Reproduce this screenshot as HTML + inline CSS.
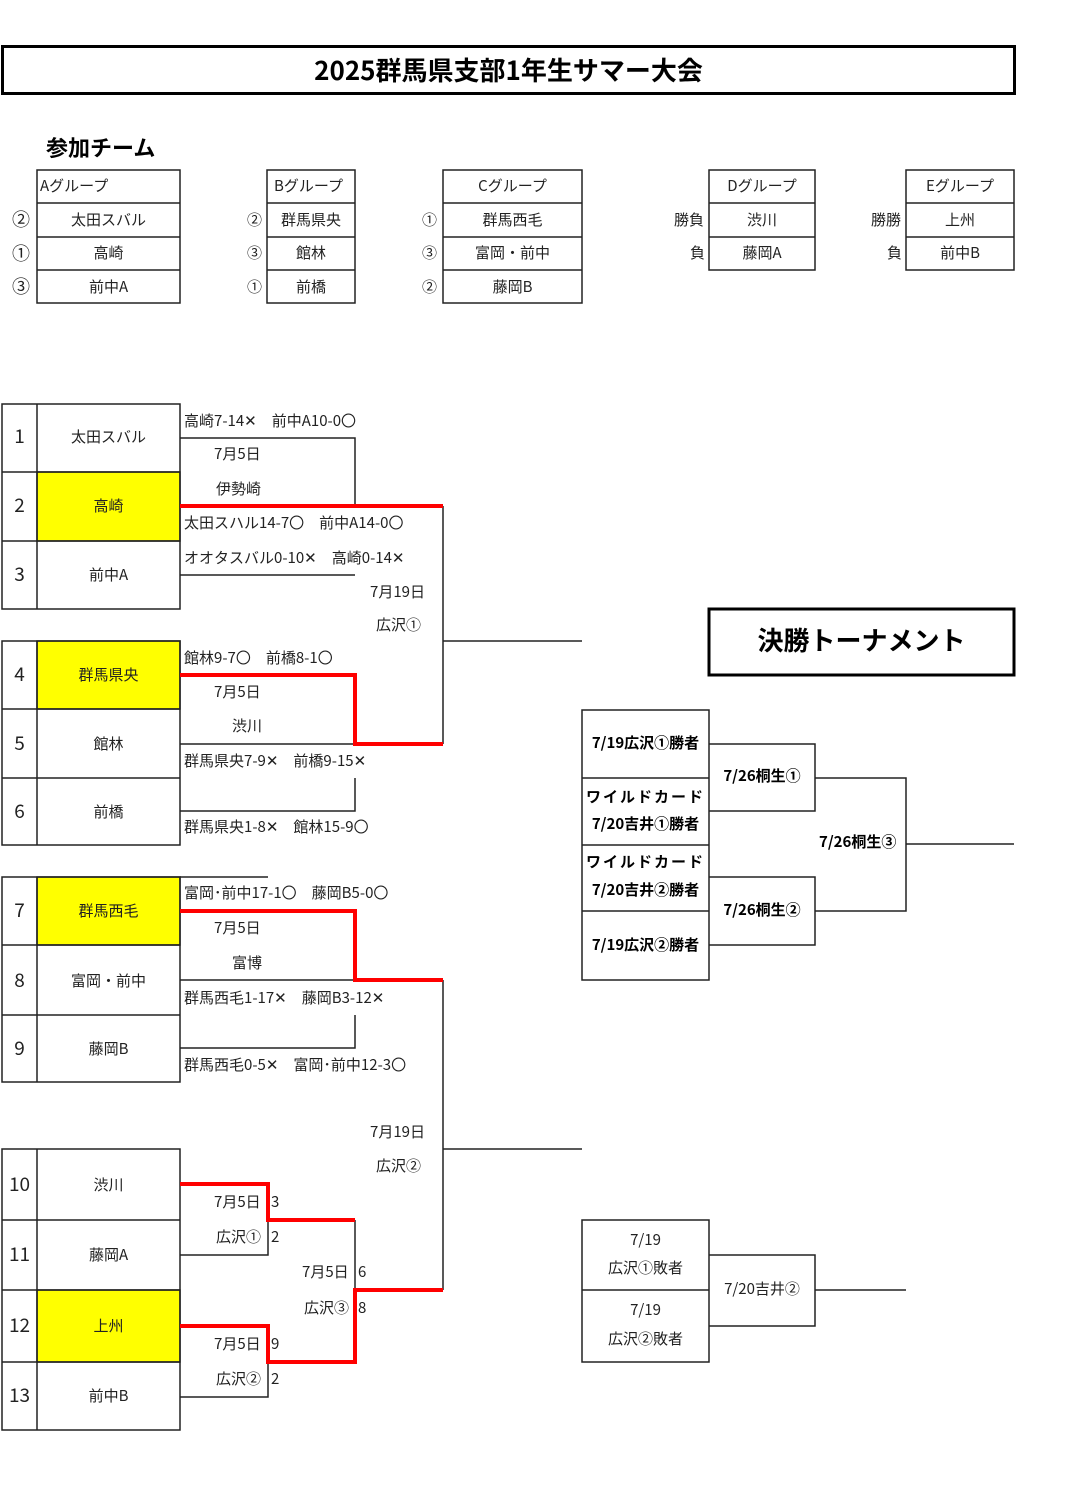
<!DOCTYPE html>
<html><head><meta charset="utf-8"><style>
body{margin:0;background:#fff;}
#p{position:relative;width:1080px;height:1509px;overflow:hidden;font-family:"Noto Sans CJK JP","Liberation Sans",sans-serif;color:#222;font-size:15px;}
.t{position:absolute;white-space:nowrap;line-height:20px;}
.c{text-align:center;}
.b{font-weight:bold;color:#000;}
svg{position:absolute;left:0;top:0;}
</style></head><body><div id="p">
<svg width="1080" height="1509" xmlns="http://www.w3.org/2000/svg">
<g fill="none" stroke="#222" stroke-width="1.5">
<rect x="2.5" y="46.5" width="1012" height="47" stroke-width="3" stroke="#000"/>
<rect x="37" y="170" width="143" height="133"/><line x1="37" y1="203" x2="180" y2="203"/><line x1="37" y1="237" x2="180" y2="237"/><line x1="37" y1="270" x2="180" y2="270"/>
<rect x="267" y="170" width="88" height="133"/><line x1="267" y1="203" x2="355" y2="203"/><line x1="267" y1="237" x2="355" y2="237"/><line x1="267" y1="270" x2="355" y2="270"/>
<rect x="443" y="170" width="139" height="133"/><line x1="443" y1="203" x2="582" y2="203"/><line x1="443" y1="237" x2="582" y2="237"/><line x1="443" y1="270" x2="582" y2="270"/>
<rect x="709" y="170" width="106" height="100"/><line x1="709" y1="203" x2="815" y2="203"/><line x1="709" y1="237" x2="815" y2="237"/>
<rect x="906" y="170" width="108" height="100"/><line x1="906" y1="203" x2="1014" y2="203"/><line x1="906" y1="237" x2="1014" y2="237"/>
</g>
<g stroke="#222" stroke-width="1.5">
<rect x="37" y="472" width="143" height="69" fill="#ffff00"/>
<rect x="37" y="641" width="143" height="68" fill="#ffff00"/>
<rect x="37" y="877" width="143" height="68" fill="#ffff00"/>
<rect x="37" y="1290" width="143" height="72" fill="#ffff00"/>
</g>
<g fill="none" stroke="#222" stroke-width="1.5">
<rect x="2" y="404" width="178" height="205"/><line x1="37" y1="404" x2="37" y2="609"/><line x1="2" y1="472" x2="180" y2="472"/><line x1="2" y1="541" x2="180" y2="541"/>
<rect x="2" y="641" width="178" height="204"/><line x1="37" y1="641" x2="37" y2="845"/><line x1="2" y1="709" x2="180" y2="709"/><line x1="2" y1="778" x2="180" y2="778"/>
<rect x="2" y="877" width="178" height="205"/><line x1="37" y1="877" x2="37" y2="1082"/><line x1="2" y1="945" x2="180" y2="945"/><line x1="2" y1="1015" x2="180" y2="1015"/>
<rect x="2" y="1149" width="178" height="281"/><line x1="37" y1="1149" x2="37" y2="1430"/><line x1="2" y1="1220" x2="180" y2="1220"/><line x1="2" y1="1290" x2="180" y2="1290"/><line x1="2" y1="1362" x2="180" y2="1362"/>
<polyline points="180,438 355,438 355,506"/>
<line x1="180" y1="575" x2="355" y2="575"/>
<line x1="443" y1="506" x2="443" y2="744"/>
<line x1="443" y1="641" x2="582" y2="641"/>
<line x1="180" y1="744" x2="355" y2="744"/>
<polyline points="180,811 355,811 355,778"/>
<line x1="180" y1="877" x2="268" y2="877"/>
<line x1="180" y1="980" x2="355" y2="980"/>
<polyline points="180,1048 355,1048 355,1015"/>
<line x1="443" y1="980" x2="443" y2="1290"/>
<line x1="443" y1="1149" x2="582" y2="1149"/>
<polyline points="180,1255 268,1255 268,1220"/>
<line x1="355" y1="1220" x2="355" y2="1290"/>
<polyline points="180,1397 268,1397 268,1362"/>
<rect x="709" y="609" width="305" height="66" stroke-width="3" stroke="#000"/>
<rect x="582" y="710" width="127" height="270"/><line x1="582" y1="778" x2="709" y2="778"/><line x1="582" y1="845" x2="709" y2="845"/><line x1="582" y1="911" x2="709" y2="911"/>
<polyline points="709,744 815,744 815,811 709,811"/>
<polyline points="709,877 815,877 815,945 709,945"/>
<polyline points="815,778 906,778 906,911 815,911"/>
<line x1="906" y1="844" x2="1014" y2="844"/>
<rect x="582" y="1220" width="127" height="142"/><line x1="582" y1="1290" x2="709" y2="1290"/>
<polyline points="709,1255 815,1255 815,1326 709,1326"/>
<line x1="815" y1="1290" x2="906" y2="1290"/>
</g>
<g fill="none" stroke="#f00" stroke-width="4">
<polyline points="180,506 443,506"/>
<polyline points="180,675 355,675 355,744 443,744"/>
<polyline points="180,911 355,911 355,980 443,980"/>
<polyline points="180,1184 268,1184 268,1220 355,1220"/>
<polyline points="180,1326 268,1326 268,1362 355,1362 355,1290 443,1290"/>
</g>
</svg>

<div class="t c b" style="left:2px;top:55px;width:1013px;font-size:26px;line-height:30px;">2025群馬県支部1年生サマー大会</div>
<div class="t b" style="left:46px;top:133px;font-size:22px;line-height:28px;">参加チーム</div>

<div class="t" style="left:40px;top:176px;">Aグループ</div>
<div class="t c" style="left:37px;top:210px;width:143px;">太田スバル</div>
<div class="t c" style="left:37px;top:243px;width:143px;">高崎</div>
<div class="t c" style="left:37px;top:277px;width:143px;">前中A</div>
<div class="t" style="left:12px;top:209px;font-size:18px;">②</div>
<div class="t" style="left:12px;top:243px;font-size:18px;">①</div>
<div class="t" style="left:12px;top:276px;font-size:18px;">③</div>

<div class="t" style="left:274px;top:176px;">Bグループ</div>
<div class="t c" style="left:267px;top:210px;width:88px;">群馬県央</div>
<div class="t c" style="left:267px;top:243px;width:88px;">館林</div>
<div class="t c" style="left:267px;top:277px;width:88px;">前橋</div>
<div class="t" style="left:247px;top:210px;">②</div>
<div class="t" style="left:247px;top:243px;">③</div>
<div class="t" style="left:247px;top:277px;">①</div>

<div class="t c" style="left:443px;top:176px;width:139px;">Cグループ</div>
<div class="t c" style="left:443px;top:210px;width:139px;">群馬西毛</div>
<div class="t c" style="left:443px;top:243px;width:139px;">富岡・前中</div>
<div class="t c" style="left:443px;top:277px;width:139px;">藤岡B</div>
<div class="t" style="left:422px;top:210px;">①</div>
<div class="t" style="left:422px;top:243px;">③</div>
<div class="t" style="left:422px;top:277px;">②</div>

<div class="t c" style="left:709px;top:176px;width:106px;">Dグループ</div>
<div class="t c" style="left:709px;top:210px;width:106px;">渋川</div>
<div class="t c" style="left:709px;top:243px;width:106px;">藤岡A</div>
<div class="t" style="left:674px;top:210px;">勝負</div>
<div class="t" style="left:690px;top:243px;">負</div>

<div class="t c" style="left:906px;top:176px;width:108px;">Eグループ</div>
<div class="t c" style="left:906px;top:210px;width:108px;">上州</div>
<div class="t c" style="left:906px;top:243px;width:108px;">前中B</div>
<div class="t" style="left:871px;top:210px;">勝勝</div>
<div class="t" style="left:887px;top:243px;">負</div>

<div class="t c" style="left:2px;top:426px;width:35px;font-size:19px;">1</div><div class="t c" style="left:37px;top:427px;width:143px;">太田スバル</div>
<div class="t c" style="left:2px;top:495px;width:35px;font-size:19px;">2</div><div class="t c" style="left:37px;top:496px;width:143px;">高崎</div>
<div class="t c" style="left:2px;top:564px;width:35px;font-size:19px;">3</div><div class="t c" style="left:37px;top:565px;width:143px;">前中A</div>
<div class="t c" style="left:2px;top:664px;width:35px;font-size:19px;">4</div><div class="t c" style="left:37px;top:665px;width:143px;">群馬県央</div>
<div class="t c" style="left:2px;top:733px;width:35px;font-size:19px;">5</div><div class="t c" style="left:37px;top:734px;width:143px;">館林</div>
<div class="t c" style="left:2px;top:801px;width:35px;font-size:19px;">6</div><div class="t c" style="left:37px;top:802px;width:143px;">前橋</div>
<div class="t c" style="left:2px;top:900px;width:35px;font-size:19px;">7</div><div class="t c" style="left:37px;top:901px;width:143px;">群馬西毛</div>
<div class="t c" style="left:2px;top:970px;width:35px;font-size:19px;">8</div><div class="t c" style="left:37px;top:971px;width:143px;">富岡・前中</div>
<div class="t c" style="left:2px;top:1038px;width:35px;font-size:19px;">9</div><div class="t c" style="left:37px;top:1039px;width:143px;">藤岡B</div>
<div class="t c" style="left:2px;top:1174px;width:35px;font-size:19px;">10</div><div class="t c" style="left:37px;top:1175px;width:143px;">渋川</div>
<div class="t c" style="left:2px;top:1244px;width:35px;font-size:19px;">11</div><div class="t c" style="left:37px;top:1245px;width:143px;">藤岡A</div>
<div class="t c" style="left:2px;top:1315px;width:35px;font-size:19px;">12</div><div class="t c" style="left:37px;top:1316px;width:143px;">上州</div>
<div class="t c" style="left:2px;top:1385px;width:35px;font-size:19px;">13</div><div class="t c" style="left:37px;top:1386px;width:143px;">前中B</div>

<div class="t" style="left:184px;top:411px;">高崎7-14✕　前中A10-0〇</div>
<div class="t" style="left:214px;top:444px;">7月5日</div>
<div class="t" style="left:216px;top:479px;">伊勢崎</div>
<div class="t" style="left:184px;top:513px;">太田スハル14-7〇　前中A14-0〇</div>
<div class="t" style="left:184px;top:548px;">オオタスバル0-10✕　高崎0-14✕</div>
<div class="t" style="left:370px;top:582px;">7月19日</div>
<div class="t" style="left:376px;top:615px;">広沢①</div>
<div class="t" style="left:184px;top:648px;">館林9-7〇　前橋8-1〇</div>
<div class="t" style="left:214px;top:682px;">7月5日</div>
<div class="t" style="left:232px;top:716px;">渋川</div>
<div class="t" style="left:184px;top:751px;">群馬県央7-9✕　前橋9-15✕</div>
<div class="t" style="left:184px;top:817px;">群馬県央1-8✕　館林15-9〇</div>
<div class="t" style="left:184px;top:883px;">富岡･前中17-1〇　藤岡B5-0〇</div>
<div class="t" style="left:214px;top:918px;">7月5日</div>
<div class="t" style="left:232px;top:953px;">富博</div>
<div class="t" style="left:184px;top:988px;">群馬西毛1-17✕　藤岡B3-12✕</div>
<div class="t" style="left:184px;top:1055px;">群馬西毛0-5✕　富岡･前中12-3〇</div>
<div class="t" style="left:370px;top:1122px;">7月19日</div>
<div class="t" style="left:376px;top:1156px;">広沢②</div>
<div class="t" style="left:214px;top:1192px;">7月5日</div><div class="t" style="left:271px;top:1192px;">3</div>
<div class="t" style="left:216px;top:1227px;">広沢①</div><div class="t" style="left:271px;top:1227px;">2</div>
<div class="t" style="left:302px;top:1262px;">7月5日</div><div class="t" style="left:358px;top:1262px;">6</div>
<div class="t" style="left:304px;top:1298px;">広沢③</div><div class="t" style="left:358px;top:1298px;">8</div>
<div class="t" style="left:214px;top:1334px;">7月5日</div><div class="t" style="left:271px;top:1334px;">9</div>
<div class="t" style="left:216px;top:1369px;">広沢②</div><div class="t" style="left:271px;top:1369px;">2</div>

<div class="t c b" style="left:709px;top:625px;width:305px;font-size:26px;line-height:30px;">決勝トーナメント</div>
<div class="t c b" style="left:582px;top:733px;width:127px;">7/19広沢①勝者</div>
<div class="t c b" style="left:582px;top:787px;width:127px;letter-spacing:2px;">ワイルドカード</div>
<div class="t c b" style="left:582px;top:814px;width:127px;">7/20吉井①勝者</div>
<div class="t c b" style="left:582px;top:852px;width:127px;letter-spacing:2px;">ワイルドカード</div>
<div class="t c b" style="left:582px;top:880px;width:127px;">7/20吉井②勝者</div>
<div class="t c b" style="left:582px;top:935px;width:127px;">7/19広沢②勝者</div>
<div class="t c b" style="left:709px;top:766px;width:106px;">7/26桐生①</div>
<div class="t c b" style="left:709px;top:900px;width:106px;">7/26桐生②</div>
<div class="t b" style="left:819px;top:832px;">7/26桐生③</div>
<div class="t c" style="left:582px;top:1230px;width:127px;">7/19</div>
<div class="t c" style="left:582px;top:1258px;width:127px;">広沢①敗者</div>
<div class="t c" style="left:582px;top:1300px;width:127px;">7/19</div>
<div class="t c" style="left:582px;top:1329px;width:127px;">広沢②敗者</div>
<div class="t c" style="left:709px;top:1279px;width:106px;">7/20吉井②</div>
</div></body></html>
